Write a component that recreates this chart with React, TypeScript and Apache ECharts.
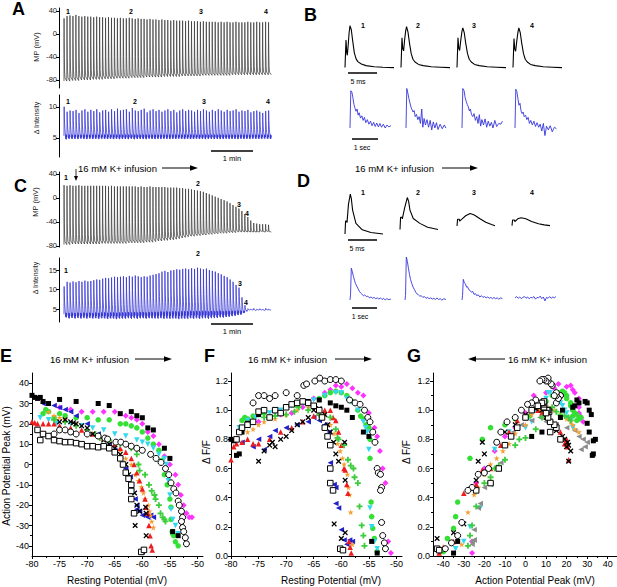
import React, { useEffect, useRef } from "react";
import * as echarts from "echarts";

const FONT = '"Liberation Sans", Arial, Helvetica, sans-serif';
const W = 617;
const H = 587;

// ---------------- Panel A (control) : per-event values ----------------
const apPeaksA = [
  27, 31, 32, 31, 33, 31, 30, 31, 30, 30,
  29, 30, 29, 29, 28, 29, 28, 28, 27, 28,
  27, 27, 28, 27, 26, 27, 26, 26, 25, 26,
  25, 25, 24, 25, 24, 24, 23, 24, 23, 23,
  23, 22, 23, 22, 22, 22, 21, 22, 21, 21,
  21, 21, 20, 21, 20, 21, 20, 20, 21, 20,
  20, 20, 21, 20, 20, 21, 20, 20, 21, 20,
];
const apTroughsA = [
  -82, -82, -81, -81, -81, -80, -80, -80, -80, -79,
  -79, -79, -79, -78, -78, -78, -78, -77, -77, -77,
  -77, -77, -76, -76, -76, -76, -76, -75, -75, -75,
  -75, -75, -75, -74, -74, -74, -74, -74, -74, -73,
  -73, -73, -73, -73, -73, -73, -72, -72, -72, -72,
  -72, -72, -72, -72, -72, -72, -71, -71, -71, -71,
  -71, -71, -71, -71, -71, -71, -71, -71, -71, -71,
];
const caPeaksA = [
  10.0, 9.2, 9.4, 9.3, 9.5, 9.0, 9.4, 9.6, 9.2, 9.5,
  9.3, 9.6, 9.1, 9.4, 9.5, 9.2, 9.6, 9.3, 9.7, 9.4,
  9.5, 9.6, 9.2, 9.8, 9.4, 9.3, 9.5, 9.7, 9.1, 9.4,
  9.6, 9.3, 9.5, 9.2, 9.4, 9.6, 9.3, 9.5, 9.1, 9.4,
  9.6, 9.3, 9.5, 9.4, 9.2, 9.5, 9.3, 9.6, 9.4, 9.2,
  9.5, 9.3, 9.6, 9.4, 9.2, 9.5, 9.3, 9.4, 9.6, 9.2,
  9.4, 9.3, 9.5, 9.1, 9.3, 9.4, 9.2, 9.0, 9.3, 9.4,
];
const caBaseA = 5.3;

// ---------------- Panel C (16 mM K+) : per-event values ----------------
const apPeaksC = [
  21, 20, 21, 20, 20, 21, 20, 20, 20, 20,
  20, 20, 20, 20, 20, 19, 20, 19, 19, 19,
  19, 19, 19, 19, 19, 18, 19, 18, 18, 19,
  18, 18, 18, 18, 18, 17, 17, 17, 17, 16,
  16, 15, 15, 14, 13, 12, 11, 10, 8, 6,
  4, 2, 0, -2, -4, -6, -9, -12, -15, -18,
  -22, -27, -32, -38, -42, -43, -44, -44, -44, -45,
];
const apTroughsC = [
  -78, -78, -77, -77, -77, -77, -77, -77, -77, -77,
  -77, -77, -76, -76, -76, -76, -76, -76, -76, -76,
  -76, -75, -75, -75, -75, -75, -75, -74, -74, -74,
  -73, -72, -72, -71, -71, -70, -70, -69, -68, -67,
  -66, -65, -64, -64, -63, -63, -62, -62, -61, -61,
  -60, -60, -59, -59, -59, -58, -58, -58, -57, -57,
  -57, -57, -57, -57, -57, -57, -56, -57, -56, -57,
];
const caPeaksC = [
  10.8, 12.0, 11.8, 12.1, 11.9, 12.2, 12.0, 12.3, 12.1, 12.2,
  12.4, 12.6, 12.5, 12.8, 13.0, 12.9, 13.1, 13.3, 13.2, 13.3,
  13.4, 13.2, 13.5, 13.3, 13.6, 13.4, 13.2, 13.4, 13.3, 13.6,
  13.8, 14.0, 14.2, 14.6, 14.8, 14.5, 14.9, 15.0, 15.2, 15.1,
  15.3, 15.4, 15.2, 15.5, 15.3, 15.6, 15.4, 15.2, 15.4, 15.0,
  14.8, 14.6, 14.2, 13.9, 13.5, 13.2, 12.6, 12.0, 11.2, 10.5,
  8.0, 6.0, 5.1, 5.0, 5.2, 5.0, 5.1, 5.0, 5.2, 5.0,
];
const caBaseC = [
  3.7, 3.6, 3.7, 3.6, 3.7, 3.6, 3.7, 3.6, 3.7, 3.6,
  3.7, 3.6, 3.7, 3.7, 3.6, 3.7, 3.7, 3.6, 3.7, 3.7,
  3.7, 3.8, 3.7, 3.8, 3.7, 3.8, 3.8, 3.7, 3.8, 3.8,
  3.8, 3.8, 3.9, 3.8, 3.9, 3.8, 3.9, 3.9, 3.8, 3.9,
  3.9, 3.9, 4.0, 3.9, 4.0, 3.9, 4.0, 4.0, 3.9, 4.0,
  4.0, 4.0, 4.1, 4.0, 4.1, 4.1, 4.2, 4.2, 4.3, 4.3,
  4.4, 4.6, 4.8, 4.8, 4.7, 4.8, 4.8, 4.7, 4.8, 4.8,
];

// event timing (seconds)
const firstEvent = 7.1;
const eventPeriod = 4.23;
const recordLength = 304;

// normalised waveform templates: [seconds after event, fraction of amplitude]
const apTemplate = [[0, 0], [0.12, 1], [0.3, 0.62], [0.55, 0.36], [0.9, 0.16], [1.5, 0.05], [4.0, 0]];
const caTemplate = [
  [0, 0], [0.25, 1], [0.55, 0.62], [0.9, 0.42], [1.3, 0.26], [1.7, 0.14],
  [2.1, 0.02], [2.5, -0.1], [2.9, 0.05], [3.3, -0.12], [3.7, 0.03], [4.0, -0.05],
];

// tick labels
const mpTicks = [-80, -40, 0, 40];
const intensityTicksA = [5, 10];
const intensityTicksC = [5, 10, 15];
const restTicks = [-80, -75, -70, -65, -60, -55, -50];
const restMinor = [-77.5, -72.5, -67.5, -62.5, -57.5, -52.5];
const peakTicksE = [-40, -30, -20, -10, 0, 10, 20, 30, 40];
const peakMinorE = [-35, -25, -15, -5, 5, 15, 25, 35];
const dffTicks = [0, 0.2, 0.4, 0.6, 0.8, 1.0, 1.2];
const dffMinor = [0.1, 0.3, 0.5, 0.7, 0.9, 1.1];
const peakTicksG = [-40, -30, -20, -10, 0, 10, 20, 30, 40];
const peakMinorG = [-35, -25, -15, -5, 5, 15, 25, 35];
const insetLabels = ["1", "2", "3", "4"];

// ---------------- Panel B insets ----------------
const apB1 = [[0, -77], [0.05, -77], [0.17, -8], [0.3, -40], [0.4, -46], [0.55, -20], [0.7, 10], [0.85, 28], [0.95, 29], [1.08, 18], [1.32, -10], [1.6, -40], [1.9, -55], [2.2, -62], [2.8, -68], [3.6, -72], [5.0, -75], [6.5, -76], [8.4, -77]];
const apB2 = [[0, -77], [0.05, -77], [0.17, -2], [0.3, -30], [0.45, -35], [0.6, -10], [0.8, 15], [0.95, 26], [1.05, 25], [1.2, 12], [1.45, -15], [1.75, -42], [2.05, -56], [2.4, -63], [3.0, -69], [3.8, -72], [5.2, -75], [6.8, -76], [8.4, -77]];
const apB3 = [[0, -77], [0.05, -77], [0.17, -2], [0.3, -28], [0.45, -34], [0.65, -8], [0.85, 14], [1.0, 23], [1.1, 22], [1.25, 10], [1.5, -16], [1.8, -42], [2.1, -56], [2.45, -63], [3.0, -69], [3.8, -72], [5.2, -75], [6.8, -76], [8.4, -77]];
const apB4 = [[0, -77], [0.05, -77], [0.17, -4], [0.3, -30], [0.45, -36], [0.65, -10], [0.85, 12], [1.0, 23], [1.1, 22], [1.25, 10], [1.5, -16], [1.8, -42], [2.1, -56], [2.45, -63], [3.0, -69], [3.8, -72], [5.2, -75], [6.8, -76], [8.4, -77]];
const caB1 = [[0, 0.0], [0.03, 0.98], [0.07, 0.95], [0.11, 0.8], [0.15, 0.62], [0.19, 0.52], [0.23, 0.44], [0.27, 0.5], [0.31, 0.34], [0.35, 0.4], [0.4, 0.26], [0.45, 0.32], [0.5, 0.2], [0.55, 0.28], [0.6, 0.14], [0.66, 0.22], [0.72, 0.1], [0.78, 0.18], [0.84, 0.06], [0.9, 0.15], [0.96, 0.04], [1.02, 0.13], [1.08, 0.03], [1.14, 0.12], [1.2, 0.02], [1.27, 0.1], [1.34, 0.0], [1.41, 0.08], [1.48, 0.03], [1.56, 0.06]];
const caB2 = [[0, 0.0], [0.03, 1.04], [0.07, 0.92], [0.11, 0.78], [0.15, 0.66], [0.19, 0.55], [0.23, 0.48], [0.27, 0.42], [0.31, 0.46], [0.35, 0.3], [0.4, 0.36], [0.45, 0.22], [0.5, 0.3], [0.55, 0.12], [0.6, 0.5], [0.64, 0.02], [0.69, 0.25], [0.74, 0.08], [0.8, 0.22], [0.86, 0.02], [0.92, 0.2], [0.98, -0.05], [1.04, 0.16], [1.1, 0.0], [1.16, 0.14], [1.22, -0.04], [1.3, 0.1], [1.38, -0.02], [1.46, 0.08], [1.52, 0.0]];
const caB3 = [[0, 0.0], [0.03, 1.04], [0.08, 0.98], [0.12, 0.8], [0.16, 0.7], [0.2, 0.62], [0.24, 0.56], [0.28, 0.45], [0.32, 0.5], [0.36, 0.36], [0.41, 0.3], [0.46, 0.38], [0.51, 0.2], [0.56, 0.3], [0.61, 0.12], [0.66, 0.35], [0.71, 0.05], [0.76, 0.22], [0.82, 0.08], [0.88, 0.24], [0.94, 0.02], [1.0, 0.18], [1.06, 0.05], [1.12, 0.15], [1.18, 0.0], [1.25, 0.2], [1.32, 0.04], [1.4, 0.12], [1.48, 0.1], [1.54, 0.18]];
const caB4 = [[0, 0.0], [0.03, 1.02], [0.07, 0.96], [0.11, 0.78], [0.15, 0.6], [0.19, 0.65], [0.23, 0.45], [0.27, 0.38], [0.31, 0.42], [0.35, 0.3], [0.4, 0.34], [0.45, 0.22], [0.5, 0.28], [0.55, 0.12], [0.6, 0.2], [0.66, 0.08], [0.72, 0.18], [0.78, 0.04], [0.84, 0.14], [0.9, 0.02], [0.96, 0.1], [1.02, -0.08], [1.08, 0.12], [1.14, -0.2], [1.2, 0.05], [1.27, -0.05], [1.34, 0.06], [1.42, -0.1], [1.5, 0.02], [1.58, -0.02]];

// ---------------- Panel D insets ----------------
const apD1 = [[0, -78], [0.05, -78], [0.1, -44], [0.3, -44], [0.35, -48], [0.6, 0], [0.92, 27], [1.1, 15], [1.32, -15], [1.9, -50], [3.0, -67], [4.5, -74], [6.6, -78]];
const apD2 = [[0, -66], [0.05, -66], [0.1, -34], [0.35, -34], [0.4, -38], [0.8, -10], [1.27, 18], [1.5, 8], [1.73, -15], [2.3, -37], [3.45, -50], [4.8, -60], [6.6, -66]];
const apD3 = [[0, -57], [0.05, -57], [0.1, -39], [0.4, -39], [0.45, -44], [0.9, -38], [1.5, -30], [2.3, -24], [3.0, -28], [4.0, -38], [5.0, -47], [6.0, -53], [6.6, -56]];
const apD4 = [[0, -56], [0.05, -56], [0.1, -41], [0.4, -41], [0.5, -45], [1.0, -38], [1.6, -35], [2.4, -38], [3.4, -45], [4.6, -51], [5.6, -54], [6.6, -56]];
const caD1 = [[0, 0.0], [0.02, 0.12], [0.05, 0.74], [0.09, 0.66], [0.13, 0.55], [0.17, 0.46], [0.21, 0.38], [0.26, 0.32], [0.31, 0.26], [0.36, 0.2], [0.41, 0.16], [0.46, 0.13], [0.51, 0.1], [0.56, 0.12], [0.62, 0.08], [0.68, 0.09], [0.74, 0.05], [0.8, 0.07], [0.86, 0.04], [0.92, 0.06], [0.98, 0.03], [1.04, 0.05], [1.1, 0.02], [1.16, 0.05], [1.22, 0.01], [1.28, 0.04], [1.34, 0.0], [1.4, 0.03], [1.48, 0.01], [1.56, 0.02]];
const caD2 = [[0, 0.0], [0.02, 0.1], [0.05, 1.0], [0.09, 0.9], [0.13, 0.74], [0.17, 0.6], [0.21, 0.48], [0.26, 0.38], [0.31, 0.3], [0.36, 0.24], [0.41, 0.18], [0.46, 0.14], [0.51, 0.12], [0.56, 0.09], [0.62, 0.1], [0.68, 0.06], [0.74, 0.08], [0.8, 0.04], [0.86, 0.06], [0.92, 0.03], [0.98, 0.05], [1.04, 0.02], [1.1, 0.04], [1.16, 0.01], [1.22, 0.05], [1.28, 0.01], [1.34, 0.03], [1.4, 0.0], [1.48, 0.03], [1.56, 0.01]];
const caD3 = [[0, 0.0], [0.02, 0.1], [0.05, 0.48], [0.09, 0.4], [0.13, 0.38], [0.17, 0.3], [0.21, 0.31], [0.26, 0.24], [0.31, 0.22], [0.36, 0.18], [0.41, 0.2], [0.46, 0.13], [0.51, 0.15], [0.56, 0.1], [0.62, 0.12], [0.68, 0.07], [0.74, 0.1], [0.8, 0.06], [0.86, 0.08], [0.92, 0.05], [0.98, 0.07], [1.04, 0.04], [1.1, 0.06], [1.16, 0.03], [1.22, 0.06], [1.28, 0.03], [1.34, 0.05], [1.4, 0.02], [1.48, 0.05], [1.54, 0.03]];
const caD4 = [[0, 0.05], [0.06, 0.08], [0.12, 0.04], [0.18, 0.07], [0.24, 0.03], [0.3, 0.06], [0.36, 0.08], [0.42, 0.04], [0.48, 0.07], [0.54, 0.03], [0.6, 0.06], [0.66, 0.05], [0.72, 0.08], [0.78, 0.02], [0.84, 0.06], [0.9, 0.05], [0.96, 0.09], [1.02, 0.03], [1.08, 0.07], [1.14, -0.02], [1.2, 0.06], [1.26, 0.04], [1.32, 0.08], [1.38, 0.04], [1.44, 0.07], [1.5, 0.05], [1.56, 0.08]];

// ---------------- Panels E-G : one triplet of arrays per cell ----------------
// rp = resting potential (mV), ap = action potential peak (mV), df = ΔF/F
const rpSq = [-80, -79.5, -79, -78.5, -78, -77, -75, -72, -68, -66, -64, -62, -61, -60, -59, -58, -56, -55, -54.5, -53.5];
const apSq = [34, 33, 32.5, 33, 31, 30, 32, 31, 30, 29, 25, 26, 24, 23, 18, 17, 8, 3, -33, -35];
const dfSq = [0.8, 0.79, 0.69, 0.7, 0.85, 0.91, 0.97, 1.0, 1.05, 1.06, 1.07, 1.05, 1.03, 1.02, 1.0, 0.95, 0.85, 0.82, 0.1, 0.02];

const rpMg = [-75, -73, -71, -69, -67, -65, -63, -62, -61, -60, -59, -58, -57, -56, -55, -54, -53.5, -53, -52.5, -52, -51.5, -51];
const apMg = [28, 27, 26, 26, 26, 26, 24, 23, 22, 20, 16, 14, 10, 4, 0, -5, -10, -15, -20, -24, -26, -26];
const dfMg = [0.92, 0.95, 0.97, 0.98, 1.02, 1.08, 1.12, 1.14, 1.17, 1.16, 1.18, 1.15, 1.12, 1.1, 0.98, 0.88, 0.82, 0.72, 0.6, 0.5, 0.1, 0.02];

const rpGc = [-78, -77.5, -77, -76, -75, -74, -72, -70, -68, -66, -64, -63, -62, -61, -60, -59, -58, -57, -56.5, -56, -55.5, -55, -54.8, -54.8, -54.6, -54.5, -54.3, -54, -53.5];
const apGc = [25, 27, 26, 23, 25, 24, 23, 23, 22, 22, 20, 20, 19, 18, 16, 13, 10, 7, 2, -5, -10, -17, -21, -27, -33, -34, -35, -38, -40];
const dfGc = [0.93, 0.95, 0.94, 0.96, 0.97, 0.98, 1.0, 1.02, 1.03, 1.05, 1.08, 1.1, 1.12, 1.13, 1.12, 1.1, 1.06, 1.0, 0.96, 0.94, 0.9, 0.88, 0.8, 0.67, 0.37, 0.27, 0.19, 0.12, 0.03];

const rpCy = [-78.5, -77, -75.5, -73, -71, -69, -67, -65, -63, -61, -60, -59, -58, -57, -56, -55.6, -55.3, -55, -54.8, -54.5, -54, -53.5];
const apCy = [23, 22, 20, 20, 19, 18, 17, 15, 14, 12, 11, 10, 8, 5, 3, 0, -8, -15, -22, -27, -30, -34];
const dfCy = [0.88, 0.93, 0.95, 0.98, 1.0, 1.03, 1.05, 1.07, 1.1, 1.12, 1.12, 1.08, 1.05, 1.0, 0.92, 0.88, 0.85, 0.73, 0.33, 0.2, 0.1, 0.05];

const rpBl = [-78, -76, -75, -74, -73, -72, -70, -68, -66, -65, -64, -63, -62.2, -62, -61.3, -61, -61, -60.5, -60, -59.5, -59, -58.5, -58];
const apBl = [30, 29, 28, 27, 26, 24, 20, 15, 10, 7, 3, -2, -6, -12, -17, -20, -22, -23, -25, -25, -26, -25, -26];
const dfBl = [0.78, 0.75, 0.8, 0.73, 0.82, 0.86, 0.88, 0.9, 0.92, 0.95, 0.93, 0.9, 0.85, 0.64, 0.49, 0.47, 0.36, 0.33, 0.18, 0.11, 0.08, 0.11, 0.1];

const rpOr = [-77, -76, -75, -74, -72, -70, -68, -66, -64, -63, -62, -61.3, -60.7, -60.2, -59.8, -59.5, -58.9, -58.7, -58.5, -58.3, -58];
const apOr = [26, 24, 23, 22, 20, 17, 14, 11, 7, 3, 0, -5, -8, -11, -14, -17, -20, -23, -25, -28, -31];
const dfOr = [0.85, 0.87, 0.9, 0.92, 0.94, 0.97, 1.0, 1.02, 1.0, 0.97, 0.9, 0.84, 0.77, 0.72, 0.67, 0.63, 0.56, 0.47, 0.42, 0.3, 0.08];

const rpRd = [-80, -79.5, -79, -78, -77, -76, -75, -73, -71, -69, -67, -65, -64, -63, -62, -61.5, -61, -60.5, -60, -59.5, -59.3, -59, -58.8, -58.6, -58.4, -58.2];
const apRd = [21, 20.5, 20, 20, 20, 20, 19, 18, 17, 15, 13, 10, 8, 6, 3, 0, -4, -8, -12, -17, -21, -24, -30, -35, -40, -42];
const dfRd = [0.66, 0.75, 0.77, 0.78, 0.8, 0.77, 0.77, 0.8, 0.85, 0.88, 0.92, 0.96, 0.98, 1.0, 1.0, 0.95, 0.93, 0.85, 0.76, 0.6, 0.59, 0.49, 0.43, 0.1, 0.06, 0.02];

const rpPl = [-76, -74, -72, -70, -68.5, -67.7, -66, -64, -62, -61, -60.7, -60.5, -59.5, -58.8, -58.3, -57.8, -57.6, -57, -56.7, -56.3, -56, -55.8];
const apPl = [22, 21, 19, 17, 15, 13, 12, 10, 8, 5, 0, -3, -5, -10, -13, -15, -17, -20, -24, -26, -27, -28];
const dfPl = [0.93, 0.95, 0.96, 0.97, 0.99, 1.02, 1.0, 0.97, 0.95, 0.87, 0.81, 0.8, 0.76, 0.66, 0.62, 0.6, 0.54, 0.5, 0.34, 0.21, 0.14, 0.07];

const rpX = [-75, -74, -73, -72.5, -72, -71, -70, -69, -68, -67, -66, -65, -64, -63, -62.5, -62, -61.4, -61, -60.5, -59.4, -59.3, -61.3, -59.3, -60];
const apX = [21, 22, 21, 20.5, 20, 19, 18, 15, 14, 12, 10, 8, 5, 0, -5, -10, -14, -20, -23, -21, -24, -30, -35, -43];
const dfX = [0.65, 0.72, 0.76, 0.78, 0.75, 0.8, 0.82, 0.86, 0.9, 0.92, 0.95, 1.0, 1.01, 0.97, 0.9, 0.85, 0.78, 0.7, 0.65, 0.78, 0.52, 0.22, 0.16, 0.12];

const rpOc = [-76, -75, -74, -73, -72, -70, -68, -66.8, -66.3, -64.8, -63.9, -63, -62, -61, -60, -58.5, -57.5, -56.6, -55.8, -55.2, -54.8, -54.3, -53.9, -53.5, -53.3, -52.9, -52.7, -52.9, -52.7, -52.5, -52.2, -52];
const apOc = [15, 17, 17, 16, 15, 15, 14, 13, 12.5, 11, 11, 10, 9, 8, 7, 5, 3, 1, -2, -5, -9, -12, -14, -18, -20, -23, -26, -28, -31, -33, -36, -39];
const dfOc = [1.05, 1.1, 1.1, 1.08, 1.1, 1.12, 1.1, 1.17, 1.18, 1.2, 1.22, 1.2, 1.21, 1.21, 1.2, 1.07, 1.05, 1.04, 1.0, 0.95, 0.92, 0.85, 0.78, 0.6, 0.57, 0.56, 0.47, 0.45, 0.23, 0.14, 0.09, 0.05];

const rpOs = [-79, -78.5, -78, -77, -76, -75, -74, -73, -72, -71, -70, -69, -68, -67, -66, -65, -64, -63.5, -63, -62.5, -62, -62, -62, -61.5, -60.2, -59.7];
const apOs = [17, 12, 15, 14, 12, 11.5, 11, 11, 10.5, 10, 9, 9, 8.5, 9, 8, 6, 3, 0, -4, -7, -10, -13, -17, -24, -43, -42];
const dfOs = [0.8, 0.85, 0.88, 0.9, 0.92, 0.99, 1.0, 0.95, 1.0, 0.98, 1.02, 1.04, 1.05, 1.06, 1.05, 1.03, 1.0, 0.95, 0.88, 0.82, 0.76, 0.6, 0.5, 0.45, 0.05, 0.04];

// ---------------- marker styles ----------------
const PLUS = "path://M3.5,0H6.5V3.5H10V6.5H6.5V10H3.5V6.5H0V3.5H3.5Z";
const CROSS = "path://M4,0H6V4H10V6H6V10H4V6H0V4H4Z";
const STAR = "path://M50,0L61,35L98,35L68,57L79,91L50,70L21,91L32,57L2,35L39,35Z";

const cells: any[] = [
  { rp: rpMg, ap: apMg, df: dfMg, st: { symbol: "diamond", size: 6, fill: "#ff33ff" } },
  { rp: rpGc, ap: apGc, df: dfGc, st: { symbol: "circle", size: 5.5, fill: "#33e033" } },
  { rp: rpCy, ap: apCy, df: dfCy, st: { symbol: "triangle", size: 5.5, rotate: 180, fill: "#33d8ee" } },
  { rp: rpBl, ap: apBl, df: dfBl, st: { symbol: "triangle", size: 5.5, rotate: 90, fill: "#2020cc", gFill: "#8c8c8c" } },
  { rp: rpOr, ap: apOr, df: dfOr, st: { symbol: STAR, size: 6, fill: "#f5a033" } },
  { rp: rpRd, ap: apRd, df: dfRd, st: { symbol: "triangle", size: 5.5, fill: "#ee1c1c" } },
  { rp: rpPl, ap: apPl, df: dfPl, st: { symbol: PLUS, size: 6, fill: "#3ccc3c" } },
  { rp: rpSq, ap: apSq, df: dfSq, st: { symbol: "rect", size: 5, fill: "#000000" } },
  { rp: rpX, ap: apX, df: dfX, st: { symbol: CROSS, size: 6.5, rotate: 45, fill: "#000000" } },
  { rp: rpOs, ap: apOs, df: dfOs, st: { symbol: "rect", size: 5.5, fill: "#ffffff", stroke: "#000000", bw: 1 } },
  { rp: rpOc, ap: apOc, df: dfOc, st: { symbol: "circle", size: 6, fill: "#ffffff", stroke: "#000000", bw: 1 } },
];

// ---------------- helpers ----------------
function buildTrace(peaks: number[], bases: number[] | number, template: number[][]) {
  const out: number[][] = [];
  peaks.forEach((p, i) => {
    const b = Array.isArray(bases) ? bases[i] : bases;
    const t0 = firstEvent + i * eventPeriod;
    template.forEach(([dt, f]) => out.push([t0 + dt, b + f * (p - b)]));
  });
  return out;
}

function buildOption() {
  const grids: any[] = [];
  const xAxes: any[] = [];
  const yAxes: any[] = [];
  const series: any[] = [];
  const graphics: any[] = [];

  const addGrid = (left: number, top: number, width: number, height: number, xa: any, ya: any) => {
    const gi = grids.length;
    grids.push({ left, top, width, height, containLabel: false, outerBoundsMode: "none", show: false });
    xAxes.push({ ...xa, gridIndex: gi });
    yAxes.push({ ...ya, gridIndex: gi });
    return { gi, xi: xAxes.length - 1, yi: yAxes.length - 1 };
  };
  const hidden = (min: number, max: number) => ({ type: "value", show: false, min, max, scale: true });
  const tickAxis = (min: number, max: number, ticks: number[], o: any = {}) => ({
    type: "value",
    min,
    max,
    show: true,
    position: o.position,
    axisLine: { show: o.line !== false, onZero: false, lineStyle: { color: "#000", width: 1 } },
    axisTick: { show: true, inside: false, length: o.tickLen ?? 3, customValues: ticks, lineStyle: { color: "#000", width: 1 } },
    axisLabel: {
      show: o.labels !== false,
      customValues: ticks,
      fontSize: o.fs ?? 9,
      fontFamily: FONT,
      color: o.color ?? "#000",
      margin: o.margin ?? 3,
      formatter: o.fmt,
    },
    splitLine: { show: false },
    minorTick: { show: false },
    minorSplitLine: { show: false },
  });
  const line = (xi: number, yi: number, data: any[], color: string, width: number) => ({
    type: "line",
    xAxisIndex: xi,
    yAxisIndex: yi,
    data,
    showSymbol: false,
    symbol: "none",
    clip: false,
    silent: true,
    animation: false,
    lineStyle: { color, width },
  });

  // ---- A / C long recordings ----
  const traceLeft = 59;
  const traceWidth = 213;
  const trFs = 7.5;
  const A1 = addGrid(traceLeft, 8, traceWidth, 80, hidden(0, recordLength), tickAxis(-94, 45, mpTicks, { fs: trFs, color: "#222", margin: 2 }));
  series.push(line(A1.xi, A1.yi, buildTrace(apPeaksA, apTroughsA, apTemplate), "#333333", 0.7));
  const A2 = addGrid(traceLeft, 95, traceWidth, 62, hidden(0, recordLength), tickAxis(1.9, 11.9, intensityTicksA, { fs: trFs, color: "#222", margin: 2 }));
  series.push(line(A2.xi, A2.yi, buildTrace(caPeaksA, caBaseA, caTemplate), "#3030d4", 0.75));
  const C1 = addGrid(traceLeft, 172, traceWidth, 75, hidden(0, recordLength), tickAxis(-82, 43, mpTicks, { fs: trFs, color: "#222", margin: 2 }));
  series.push(line(C1.xi, C1.yi, buildTrace(apPeaksC, apTroughsC, apTemplate), "#333333", 0.7));
  const C2 = addGrid(traceLeft, 258, traceWidth, 64, hidden(0, recordLength), tickAxis(1.7, 18.1, intensityTicksC, { fs: trFs, color: "#222", margin: 2 }));
  series.push(line(C2.xi, C2.yi, buildTrace(caPeaksC, caBaseC, caTemplate), "#3030d4", 0.75));

  // ---- B / D insets ----
  const apB = [apB1, apB2, apB3, apB4];
  const caB = [caB1, caB2, caB3, caB4];
  const apD = [apD1, apD2, apD3, apD4];
  const caD = [caD1, caD2, caD3, caD4];
  const bApLeft = [345, 401, 457, 513];
  const bCaLeft = [350, 406, 462, 515];
  const dApLeft = [345, 400, 457, 512];
  const dCaLeft = [350, 405, 462, 515];
  apB.forEach((d, i) => {
    const g = addGrid(bApLeft[i], 25, 49, 43, hidden(0, 8.4), hidden(-78, 30));
    series.push(line(g.xi, g.yi, d, "#000", 1.1));
  });
  caB.forEach((d, i) => {
    const g = addGrid(bCaLeft[i], 90, 42, 38, hidden(0, 1.6), hidden(0, 1));
    series.push(line(g.xi, g.yi, d, "#3535dd", 0.9));
  });
  apD.forEach((d, i) => {
    const g = addGrid(dApLeft[i], 193, 38, 41, hidden(0, 6.6), hidden(-78, 30));
    series.push(line(g.xi, g.yi, d, "#000", 1.1));
  });
  caD.forEach((d, i) => {
    const g = addGrid(dCaLeft[i], 257, 42, 43, hidden(0, 1.6), hidden(0, 1));
    series.push(line(g.xi, g.yi, d, "#3535dd", 0.9));
  });

  // ---- E / F / G scatter panels ----
  const sTop = 373;
  const sH = 183;
  const f1 = (v: number) => v.toFixed(1);
  const E = addGrid(32, sTop, 171, sH, tickAxis(-80, -49, restTicks), tickAxis(-45, 45, peakTicksE));
  const F = addGrid(231, sTop, 171, sH, tickAxis(-80, -49, restTicks), tickAxis(0, 1.255, dffTicks, { fmt: f1 }));
  const G = addGrid(433, sTop, 185, sH, tickAxis(-45, 45, peakTicksG), tickAxis(0, 1.255, dffTicks, { fmt: f1 }));
  // minor ticks (extra, label-less axes)
  const minorX = (gi: number, min: number, max: number, t: number[]) => xAxes.push({ ...tickAxis(min, max, t, { line: false, labels: false, tickLen: 2, position: "bottom" }), gridIndex: gi });
  const minorY = (gi: number, min: number, max: number, t: number[]) => yAxes.push({ ...tickAxis(min, max, t, { line: false, labels: false, tickLen: 2, position: "left" }), gridIndex: gi });
  minorX(E.gi, -80, -49, restMinor);
  minorY(E.gi, -45, 45, peakMinorE);
  minorX(F.gi, -80, -49, restMinor);
  minorY(F.gi, 0, 1.255, dffMinor);
  minorX(G.gi, -45, 45, peakMinorG);
  minorY(G.gi, 0, 1.255, dffMinor);
  xAxes.forEach((a) => { if (a.show && a.position === undefined) a.position = "bottom"; });
  yAxes.forEach((a) => { if (a.show && a.position === undefined) a.position = "left"; });

  const scatter = (xi: number, yi: number, xs: number[], ys: number[], st: any, fill?: string) => ({
    type: "scatter",
    xAxisIndex: xi,
    yAxisIndex: yi,
    data: xs.map((x, i) => [x, ys[i]]),
    symbol: st.symbol,
    symbolSize: st.size,
    symbolRotate: st.rotate || 0,
    itemStyle: { color: fill || st.fill, borderColor: st.stroke || fill || st.fill, borderWidth: st.bw || 0, opacity: 1 },
    silent: true,
    animation: false,
  });
  cells.forEach((c) => {
    series.push(scatter(E.xi, E.yi, c.rp, c.ap, c.st));
    series.push(scatter(F.xi, F.yi, c.rp, c.df, c.st));
    series.push(scatter(G.xi, G.yi, c.ap, c.df, c.st, c.st.gFill));
  });

  // ---- graphic decorations ----
  const T = (x: number, y: number, text: string, o: any = {}) => ({
    type: "text",
    x,
    y,
    rotation: o.rot || 0,
    silent: true,
    style: {
      text,
      fill: o.color || "#000",
      fontSize: o.size || 9,
      fontFamily: FONT,
      fontWeight: o.bold ? "bold" : "normal",
      align: o.align || "center",
      verticalAlign: "middle",
      textAlign: o.align || "center",
      textVerticalAlign: "middle",
    },
  });
  const L = (x1: number, y1: number, x2: number, y2: number, w = 1.5) => ({
    type: "line",
    silent: true,
    shape: { x1, y1, x2, y2 },
    style: { stroke: "#000", lineWidth: w },
  });
  const arrowRight = (x1: number, x2: number, y: number) => [
    L(x1, y, x2 - 5, y, 1),
    { type: "polygon", silent: true, shape: { points: [[x2 - 8, y - 2.8], [x2, y], [x2 - 8, y + 2.8]] }, style: { fill: "#000" } },
  ];
  const arrowLeft = (x1: number, x2: number, y: number) => [
    L(x1 + 5, y, x2, y, 1),
    { type: "polygon", silent: true, shape: { points: [[x1 + 8, y - 2.8], [x1, y], [x1 + 8, y + 2.8]] }, style: { fill: "#000" } },
  ];

  // panel letters
  const P = (x: number, y: number, s: string) => T(x, y, s, { size: 18, bold: true, align: "left" });
  graphics.push(P(12, 9, "A"), P(304, 15, "B"), P(14, 186, "C"), P(297, 181, "D"), P(0, 356, "E"), P(204, 356, "F"), P(407, 356, "G"));

  // event numbers
  const N = (x: number, y: number, s: string) => T(x, y, s, { size: 7, bold: true });
  const nA1 = [68, 131, 201, 266];
  const nA2 = [68, 135, 204, 268];
  const nB = [363, 418, 474, 532];
  const nC1 = [[66, 177], [198, 183], [239, 204], [247, 213]];
  const nC2 = [[66, 270], [198, 253], [240, 283], [246, 302]];
  insetLabels.forEach((s, i) => {
    graphics.push(N(nA1[i], 11, s), N(nA2[i], 101, s), N(nB[i], 25, s), N(nB[i], 192, s));
    graphics.push(N(nC1[i][0], nC1[i][1], s), N(nC2[i][0], nC2[i][1], s));
  });

  // axis titles of recordings
  const rot = Math.PI / 2;
  graphics.push(
    T(36, 47, "MP (mV)", { size: 7.5, rot, color: "#222" }),
    T(36, 118, "Δ Intensity", { size: 7, rot, color: "#222" }),
    T(35, 202, "MP (mV)", { size: 7.5, rot, color: "#222" }),
    T(35, 278, "Δ Intensity", { size: 7, rot, color: "#222" }),
  );

  // scale bars
  graphics.push(L(211, 151, 253, 151), T(232, 158, "1 min", { size: 7.5 }));
  graphics.push(L(211, 324, 253, 324), T(232, 331, "1 min", { size: 7.5 }));
  graphics.push(L(348, 73, 377, 73), T(358, 81, "5 ms", { size: 7 }));
  graphics.push(L(352, 139, 378, 139), T(362, 147, "1 sec", { size: 7 }));
  graphics.push(L(348, 240, 377, 240), T(357, 248, "5 ms", { size: 7 }));
  graphics.push(L(352, 308, 377, 308), T(360, 316, "1 sec", { size: 7 }));

  // infusion headers
  const inf = "16 mM K+ infusion";
  graphics.push(T(78, 168, inf, { size: 9.5, align: "left" }), ...arrowRight(162, 198, 168));
  graphics.push(L(76, 169, 76, 177, 0.8), { type: "polygon", silent: true, shape: { points: [[74, 176], [78, 176], [76, 181]] }, style: { fill: "#000" } });
  graphics.push(T(355, 168, inf, { size: 9.5, align: "left" }), ...arrowRight(442, 478, 168));
  graphics.push(T(50, 359, inf, { size: 9.5, align: "left" }), ...arrowRight(135, 172, 359));
  graphics.push(T(248, 359, inf, { size: 9.5, align: "left" }), ...arrowRight(335, 372, 359));
  graphics.push(...arrowLeft(468, 505, 359), T(508, 359, inf, { size: 9.5, align: "left" }));

  // scatter axis titles
  graphics.push(
    T(6, 466, "Action Potential Peak (mV)", { size: 10, rot }),
    T(117, 580, "Resting Potential (mV)", { size: 10 }),
    T(206, 452, "Δ F/F", { size: 10, rot }),
    T(331, 580, "Resting Potential (mV)", { size: 10 }),
    T(406, 452, "Δ F/F", { size: 10, rot }),
    T(535, 580, "Action Potential Peak (mV)", { size: 10 }),
  );

  return {
    animation: false,
    backgroundColor: "#ffffff",
    textStyle: { fontFamily: FONT },
    grid: grids,
    xAxis: xAxes,
    yAxis: yAxes,
    series,
    graphic: { elements: graphics },
  };
}

export default function App() {
  const ref = useRef<HTMLDivElement>(null);
  useEffect(() => {
    if (!ref.current) return;
    const chart = echarts.init(ref.current, null, { renderer: "svg", width: W, height: H });
    chart.setOption(buildOption() as any);
    return () => chart.dispose();
  }, []);
  return <div ref={ref} style={{ position: "absolute", left: 0, top: 0, width: W, height: H, background: "#fff" }} />;
}
